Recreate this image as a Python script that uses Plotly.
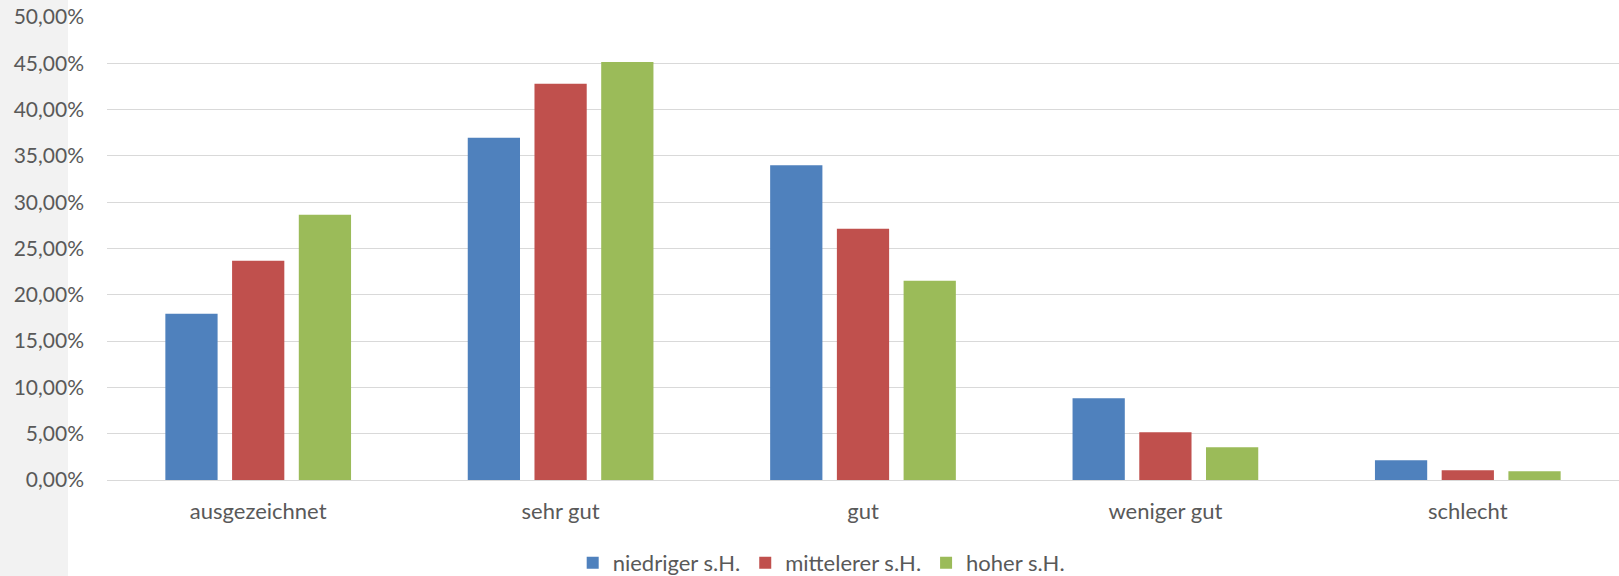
import plotly.graph_objects as go

# Category labels and share of respondents per group (fractions)
categories = ["ausgezeichnet", "sehr gut", "gut", "weniger gut", "schlecht"]
niedriger = [0.1796, 0.3695, 0.3398, 0.0882, 0.0212]
mittelerer = [0.2368, 0.4278, 0.2714, 0.0515, 0.0104]
hoher = [0.2864, 0.4515, 0.2153, 0.0353, 0.0094]

series_names = ["niedriger s.H.", "mittelerer s.H.", "hoher s.H."]
series_colors = ["#4F81BD", "#C0504D", "#9BBB59"]
y_ticks = [0, 0.05, 0.10, 0.15, 0.20, 0.25, 0.30, 0.35, 0.40, 0.45, 0.50]

W, H = 1619, 576
ML, MR, MT, MB = 107, 0, 17, 96
plot_w = W - ML - MR
plot_h = H - MT - MB

fig = go.Figure()
for name, vals, col in zip(series_names, [niedriger, mittelerer, hoher], series_colors):
    fig.add_trace(go.Bar(
        x=categories, y=vals, name=name,
        marker=dict(color=col, line=dict(width=0)),
        hoverinfo="x+y+name",
    ))

text_col = "#595959"
font_family = "Lato, 'Noto Sans', sans-serif"

fig.update_layout(
    width=W, height=H,
    margin=dict(l=ML, r=MR, t=MT, b=MB, pad=0, autoexpand=False),
    paper_bgcolor="white", plot_bgcolor="white",
    separators=",.",
    barmode="group", bargap=0.338, bargroupgap=0.217,
    font=dict(family=font_family, size=21, color=text_col),
    showlegend=True,
    legend=dict(
        orientation="h", x=0.308, xanchor="left", y=-0.179, yanchor="middle",
        font=dict(size=22, color=text_col), bgcolor="rgba(0,0,0,0)",
        itemwidth=30,
    ),
    xaxis=dict(
        type="category", showgrid=False, zeroline=False, showline=False,
        ticks="", ticklabelstandoff=16, tickfont=dict(size=22, color=text_col),
        automargin=False,
    ),
    yaxis=dict(
        range=[0, 0.5], tickvals=y_ticks, tickformat=".2%",
        showgrid=True, gridcolor="#D9D9D9", gridwidth=1.3,
        zeroline=True, zerolinecolor="#D9D9D9", zerolinewidth=1.3,
        showline=False, ticks="", ticklabelstandoff=22,
        tickfont=dict(size=21, color=text_col), automargin=False,
    ),
)

# light grey band along the left edge of the canvas
fig.add_shape(
    type="rect", xref="paper", yref="paper", layer="below",
    x0=-ML / plot_w, x1=(68 - ML) / plot_w,
    y0=-MB / plot_h, y1=1 + MT / plot_h,
    fillcolor="#F2F2F2", line=dict(width=0),
)

fig.write_html("out.html")
